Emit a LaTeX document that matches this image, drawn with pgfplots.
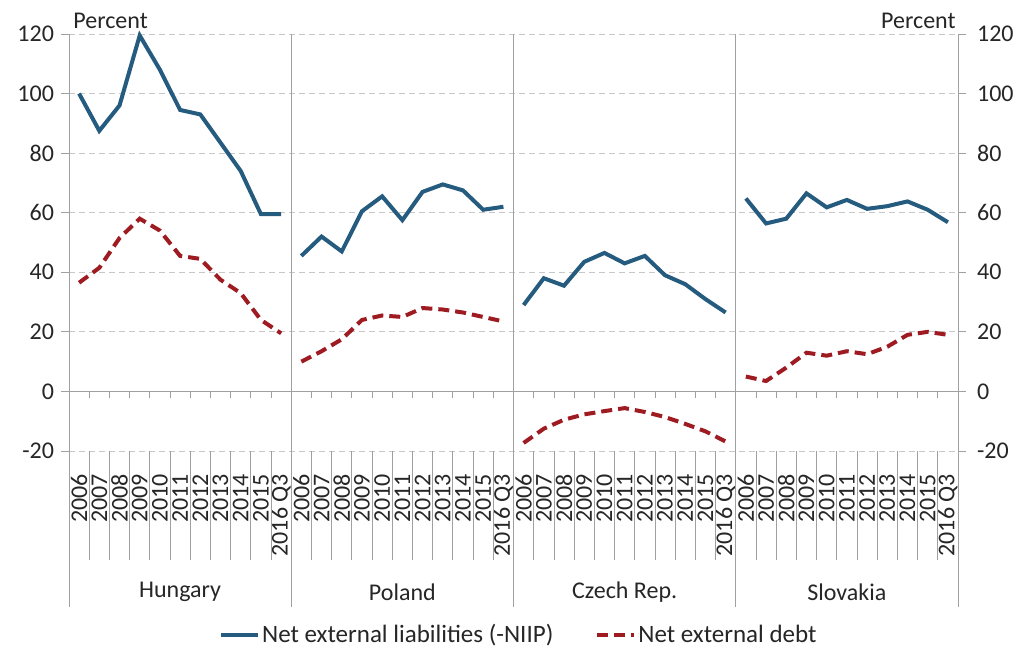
\documentclass[border=0pt]{standalone}
\usepackage{pgfplots}
\pgfplotsset{compat=1.18}
\usepackage{fontspec}
\setmainfont{Carlito}
\definecolor{niip}{HTML}{245B7E}
\definecolor{debt}{HTML}{9E1B22}
\definecolor{gridc}{HTML}{C8C8C8}
\definecolor{axc}{HTML}{A0A0A0}
\begin{document}
\begin{tikzpicture}
\pgfplotsset{
  base/.style={
    scale only axis, width=444.5pt, height=208.5pt,
    xmin=-0.5, xmax=43.5, ymin=-20, ymax=120,
    ytick={-20,0,...,120},
    tick align=outside, major tick length=4pt,
    tick style={axc, thin},
    /pgf/number format/assume math mode=true,
    ticklabel style={font=\fontsize{12}{14}\selectfont, text=black!85},
    clip=false,
  }
}
\begin{axis}[base,
  axis x line*=bottom, axis y line*=left,
  x axis line style={draw=none},
  y axis line style={axc},
  ymajorgrids, grid style={gridc, densely dashed},
  xtick={0,...,43},
  xticklabels={2006,2007,2008,2009,2010,2011,2012,2013,2014,2015,2016 Q3,
               2006,2007,2008,2009,2010,2011,2012,2013,2014,2015,2016 Q3,
               2006,2007,2008,2009,2010,2011,2012,2013,2014,2015,2016 Q3,
               2006,2007,2008,2009,2010,2011,2012,2013,2014,2015,2016 Q3},
  xticklabel style={rotate=90, anchor=east},
  xtick style={draw=none}, xticklabel shift=4pt,
  legend style={at={(0.506,0)}, anchor=center, yshift=-92pt, draw=none,
    font=\fontsize{12.5}{14}\selectfont, text=black!85,
    /tikz/every node/.append style={inner xsep=1pt},
    legend columns=2, /tikz/every even column/.append style={column sep=20pt}},
  legend image code/.code={\draw[#1] (0pt,0pt) -- (18.5pt,0pt);},
]
% Hungary
\addplot[niip, line width=2pt] coordinates {
  (0,100) (1,87.5) (2,96) (3,119.5) (4,108) (5,94.5) (6,93) (7,83.5) (8,74) (9,59.5) (10,59.5)};
\addlegendentry{Net external liabilities (-NIIP)}
\addplot[debt, line width=2pt, dash pattern=on 5.5pt off 3pt] coordinates {
  (0,36.5) (1,41.5) (2,51.5) (3,58) (4,54) (5,45.5) (6,44.5) (7,37.5) (8,33) (9,24) (10,19.5)};
\addlegendentry{Net external debt}
% Poland
\addplot[niip, line width=2pt, forget plot] coordinates {
  (11,45.5) (12,52) (13,47) (14,60.5) (15,65.5) (16,57.5) (17,67) (18,69.5) (19,67.5) (20,61) (21,62)};
\addplot[debt, line width=2pt, dash pattern=on 5.5pt off 3pt, forget plot] coordinates {
  (11,10) (12,13.5) (13,17.5) (14,24) (15,25.5) (16,25) (17,28) (18,27.5) (19,26.5) (20,25) (21,23.5)};
% Czech Rep.
\addplot[niip, line width=2pt, forget plot] coordinates {
  (22,29) (23,38) (24,35.5) (25,43.5) (26,46.5) (27,43) (28,45.5) (29,39) (30,36) (31,31) (32,26.5)};
\addplot[debt, line width=2pt, dash pattern=on 5.5pt off 3pt, forget plot] coordinates {
  (22,-17.3) (23,-12.5) (24,-9.5) (25,-7.7) (26,-6.6) (27,-5.6) (28,-6.9) (29,-8.6) (30,-10.9) (31,-13.4) (32,-16.8)};
% Slovakia
\addplot[niip, line width=2pt, forget plot] coordinates {
  (33,64.8) (34,56.4) (35,58) (36,66.5) (37,61.8) (38,64.3) (39,61.3) (40,62.2) (41,63.8) (42,61) (43,56.8)};
\addplot[debt, line width=2pt, dash pattern=on 5.5pt off 3pt, forget plot] coordinates {
  (33,5) (34,3.5) (35,8) (36,13) (37,12) (38,13.5) (39,12.5) (40,15) (41,19) (42,20) (43,19)};

% zero line and category ticks
\draw[axc] (axis cs:-0.5,0) -- (axis cs:43.5,0);
\pgfplotsinvokeforeach{0.5,1.5,...,42.5}{
  \draw[axc] (axis cs:#1,0) -- ([yshift=-3.5pt]axis cs:#1,0);
  \draw[axc] (axis cs:#1,-20) -- ([yshift=-54.5pt]axis cs:#1,-20);
}
% group separators
\pgfplotsinvokeforeach{-0.5,10.5,21.5,32.5,43.5}{
  \draw[axc] (axis cs:#1,120) -- ([yshift=-78pt]axis cs:#1,-20);
}
% group names
\node[font=\fontsize{12}{14}\selectfont, text=black!85] at (axis cs:5,-20) [yshift=-70.5pt] {Hungary};
\node[font=\fontsize{12}{14}\selectfont, text=black!85] at (axis cs:16,-20) [yshift=-70.5pt] {Poland};
\node[font=\fontsize{12}{14}\selectfont, text=black!85] at (axis cs:27,-20) [yshift=-70.5pt] {Czech Rep.};
\node[font=\fontsize{12}{14}\selectfont, text=black!85] at (axis cs:38,-20) [yshift=-70.5pt] {Slovakia};
\node[anchor=base west, font=\fontsize{12}{14}\selectfont, text=black!85, inner sep=0pt]
  at (axis cs:-0.5,120) [xshift=2pt, yshift=3pt] {Percent};
\node[anchor=base east, font=\fontsize{12}{14}\selectfont, text=black!85, inner sep=0pt]
  at (axis cs:43.5,120) [xshift=-1pt, yshift=3pt] {Percent};
\end{axis}
\begin{axis}[base,
  axis x line=none, axis y line*=right,
  y axis line style={draw=none},
  yticklabel shift=2pt,
]
\end{axis}
\pgfresetboundingbox
\path[use as bounding box] ([shift={(-34.5pt,-99pt)}]current axis.south west)
  rectangle ([shift={(32pt,17pt)}]current axis.north east);
\end{tikzpicture}
\end{document}
